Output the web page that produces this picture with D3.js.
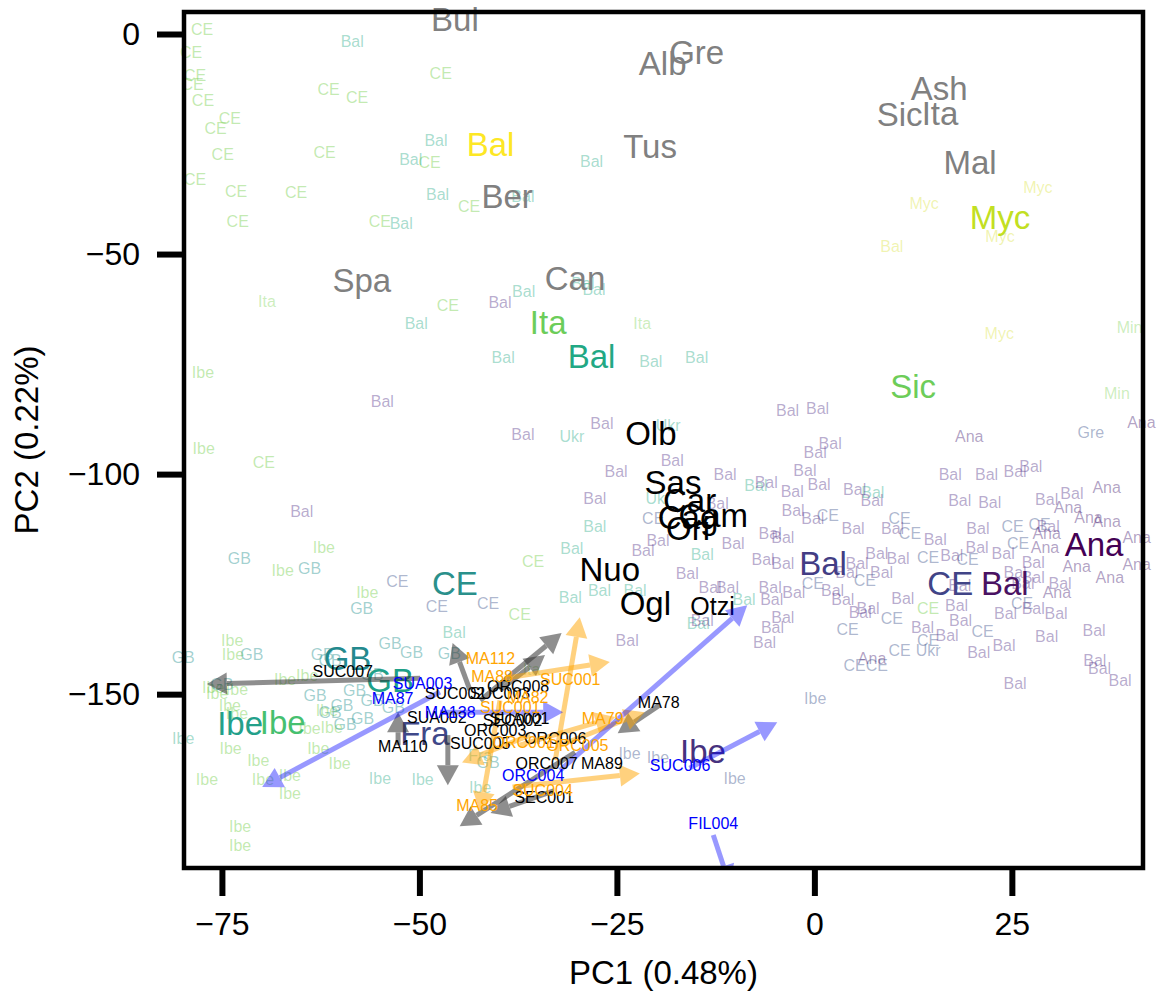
<!DOCTYPE html>
<html>
<head>
<meta charset="utf-8">
<script src="https://cdn.jsdelivr.net/npm/d3@7"></script>
<style>
  body { margin: 0; background: #fff; }
  svg text { font-family: "Liberation Sans", Arial, Helvetica, sans-serif; }
</style>
</head>
<body>
<svg id="pca" width="1159" height="996"></svg>
<script>
// axis ticks
const xTicks = [-75, -50, -25, 0, 25];
const yTicks = [0, -50, -100, -150];

// reference individuals: [label, PC1, PC2]
const greenRef = [
  ["CE",-77.5,1.1],["CE",-78.9,-4.1],["CE",-78.4,-9.5],["CE",-78.7,-11.4],["CE",-77.4,-15.2],
  ["CE",-74.0,-19.3],["CE",-75.8,-21.4],["CE",-74.9,-27.3],["CE",-78.4,-33.0],["CE",-73.2,-35.7],
  ["CE",-73.0,-42.5],["CE",-61.5,-12.5],["CE",-57.9,-14.5],["CE",-47.3,-8.9],["CE",-62.0,-27.0],
  ["CE",-65.6,-36.1],["CE",-55.0,-42.5],["CE",-43.7,-39.3],["CE",-48.7,-29.1],["CE",-46.4,-61.6],
  ["CE",-69.7,-97.3],["CE",-35.6,-119.8],["CE",14.4,-130.5],["CE",-37.3,-132.0],
  ["Ibe",-77.4,-77.0],["Ibe",-77.3,-94.1],["Ibe",-62.1,-116.6],["Ibe",-67.3,-121.8],["Ibe",-56.6,-126.8],
  ["Ibe",-73.7,-137.7],["Ibe",-73.6,-140.9],["Ibe",-64.2,-145.7],["Ibe",-67.0,-146.6],["Ibe",-76.1,-148.4],
  ["Ibe",-73.1,-148.9],["Ibe",-75.6,-149.8],["Ibe",-74.0,-152.5],["Ibe",-73.1,-154.3],["Ibe",-61.7,-153.6],
  ["Ibe",-61.1,-157.5],["Ibe",-63.9,-157.7],["Ibe",-76.9,-169.5],["Ibe",-73.9,-162.3],["Ibe",-70.4,-165.0],
  ["Ibe",-69.8,-169.5],["Ibe",-66.4,-172.5],["Ibe",-62.8,-162.3],["Ibe",-60.1,-165.7],["Ibe",-72.7,-180.0],
  ["Ibe",-72.7,-184.5],["Ibe",-66.4,-168.4]
];
const paleGreenRef = [
  ["Ita",-69.3,-60.7],["Ita",-21.8,-65.7],["Min",39.9,-66.6],["Min",38.3,-81.6],["Ita",-35.8,-144.5]
];
const tealRef = [
  ["Bal",-58.5,-1.8],["Bal",-47.9,-24.3],["Bal",-51.1,-28.6],["Bal",-47.7,-36.4],["Bal",-52.3,-43.0],
  ["Bal",-28.2,-28.9],["Bal",-36.9,-37.0],["Bal",-50.4,-65.7],["Bal",-39.4,-73.4],["Bal",-36.8,-58.4],
  ["Bal",-29.3,-56.6],["Bal",-27.9,-58.0],["Bal",-20.7,-74.3],["Bal",-14.9,-73.4],["Bal",-7.4,-102.7],
  ["Bal",7.4,-104.1],["Bal",-27.8,-111.8],["Bal",-30.7,-117.0],["Bal",-30.9,-128.0],["Bal",-27.2,-126.4],
  ["Bal",-22.7,-126.4],["Bal",-14.2,-118.2],["Bal",-8.9,-128.6],["Bal",-14.7,-133.9],["Bal",-45.6,-136.1],
  ["Ukr",-30.7,-91.4],["Ukr",-18.5,-88.9],["Ukr",-19.8,-105.5],
  ["Ibe",-79.9,-160.0],["Ibe",-49.6,-169.5],["Ibe",-42.3,-171.1],["Ibe",-55.0,-169.1],["Fra",-42.3,-163.9]
];
const gbRef = [
  ["GB",-72.8,-119.1],["GB",-63.9,-121.4],["GB",-57.3,-130.5],["GB",-79.9,-141.6],["GB",-71.2,-141.1],
  ["GB",-75.0,-147.7],["GB",-59.8,-152.5],["GB",-57.2,-155.5],["GB",-62.3,-141.1],["GB",-63.2,-150.2],
  ["GB",-53.7,-138.4],["GB",-51.0,-140.5],["GB",-46.2,-140.7],["GB",-56.0,-145.5],["GB",-53.3,-153.0],
  ["GB",-41.3,-165.5],["GB",-61.3,-142.3],["GB",-58.2,-149.1],["GB",-56.0,-151.4],["GB",-61.3,-154.1],
  ["GB",-59.4,-157.0]
];
const purpleRef = [
  ["Bal",-39.8,-60.9],["Bal",-54.7,-83.6],["Bal",-64.9,-108.6],["Bal",-26.9,-88.4],["Bal",-36.9,-91.1],
  ["Bal",-18.0,-97.0],["Bal",-25.1,-99.3],["Bal",-11.3,-100.0],["Bal",-6.1,-102.0],["Bal",-3.4,-85.5],
  ["Bal",-27.8,-105.5],["Bal",-12.3,-106.6],["Bal",-2.8,-103.9],["Bal",-2.7,-108.2],["Bal",0.4,-85.2],
  ["Bal",2.0,-93.0],["Bal",0.1,-95.0],["Bal",-1.2,-99.1],["Bal",17.2,-100.0],["Bal",21.8,-100.0],
  ["Bal",25.4,-99.5],["Bal",27.4,-98.2],["Bal",0.6,-102.3],["Bal",5.1,-103.4],["Bal",7.3,-105.9],
  ["Bal",29.4,-105.7],["Bal",-0.2,-110.0],["Bal",4.9,-112.3],["Bal",9.9,-112.3],["Bal",20.7,-112.3],
  ["Bal",15.3,-114.8],["Bal",-21.7,-117.3],["Bal",-19.8,-115.0],["Bal",-10.3,-115.7],["Bal",-6.5,-119.5],
  ["Bal",-4.0,-120.2],["Bal",-16.1,-122.5],["Bal",-13.2,-125.7],["Bal",-11.0,-125.7],["Bal",-5.6,-125.7],
  ["Bal",-2.6,-127.0],["Bal",-5.4,-128.6],["Bal",-14.2,-133.2],["Bal",-4.0,-132.5],["Bal",-5.3,-134.8],
  ["Bal",-6.3,-138.2],["Bal",-23.7,-137.7],["Bal",7.9,-118.0],["Bal",5.4,-120.2],["Bal",4.1,-122.3],
  ["Bal",8.5,-122.3],["Bal",3.6,-128.6],["Bal",5.8,-131.4],["Bal",2.3,-126.4],["Bal",6.8,-130.5],
  ["Bal",13.7,-134.8],["Bal",16.8,-136.6],["Bal",20.8,-140.5],["Bal",24.0,-138.9],["Bal",29.4,-137.0],
  ["Bal",35.4,-135.5],["Bal",35.5,-142.3],["Bal",36.1,-144.1],["Bal",38.7,-147.0],["Bal",25.4,-147.5],
  ["Bal",18.5,-133.2],["Bal",24.2,-131.6],["Bal",30.6,-131.6],["Bal",27.7,-130.5],["Bal",18.0,-129.8],
  ["Bal",18.4,-125.2],["Bal",11.2,-128.2],["Bal",10.6,-119.1],["Bal",17.4,-118.4],["Bal",20.6,-116.6],
  ["Bal",23.9,-118.0],["Bal",27.7,-120.0],["Bal",25.4,-122.3],["Bal",27.7,-123.6],["Bal",31.1,-124.8],
  ["Bal",26.4,-124.8],["Bal",29.6,-111.8],["Bal",32.6,-104.3],["Bal",18.4,-105.9],["Bal",22.2,-106.4],
  ["Bal",-5.6,-113.4],["Bal",-4.0,-114.3]
];
const anaRef = [
  ["Ana",19.6,-91.4],["Ana",41.4,-88.2],["Ana",37.0,-103.0],["Ana",32.1,-107.5],["Ana",34.7,-109.8],
  ["Ana",37.0,-110.7],["Ana",40.8,-114.3],["Ana",29.2,-116.6],["Ana",33.2,-121.1],["Ana",37.4,-123.6],
  ["Ana",40.8,-120.5],["Ana",30.7,-127.0],["Ana",7.3,-141.8],["Ana",29.4,-113.4]
];
const lavenderRef = [
  ["CE",-52.8,-124.5],["CE",-41.3,-129.5],["CE",-20.4,-110.0],["CE",1.7,-109.5],["CE",10.8,-110.0],
  ["CE",25.1,-111.8],["CE",12.1,-113.4],["CE",-0.2,-124.8],["CE",6.4,-124.1],["CE",9.8,-132.7],
  ["CE",4.2,-135.2],["CE",14.4,-137.7],["CE",10.8,-140.0],["CE",5.1,-143.6],["CE",7.9,-143.4],
  ["CE",21.3,-135.7],["CE",26.3,-129.3],["CE",14.4,-118.9],["CE",19.4,-119.5],["CE",25.8,-115.7],
  ["CE",28.5,-111.4],["CE",-47.8,-130.0],["Ukr",14.4,-140.0],["Gre",35.0,-90.5],
  ["Ibe",0.1,-150.9],["Ibe",-23.4,-163.4],["Ibe",-19.8,-164.3],["Ibe",-10.1,-169.1]
];
const yellowRef = [
  ["Myc",28.3,-34.8],["Myc",13.9,-38.6],["Myc",23.5,-46.1],["Myc",23.4,-68.0],["Bal",9.8,-48.2]
];

// population centroids
const ancientMeans = [
  ["Bul",-45.5,3.2],["Alb",-19.2,-6.6],["Gre",-14.9,-4.3],["Tus",-20.8,-25.5],["Ber",-38.9,-37.0],
  ["Spa",-57.3,-56.1],["Can",-30.3,-55.5],["Ash",15.8,-12.3],["Sic",10.8,-18.4],["Ita",15.9,-18.0],
  ["Mal",19.7,-29.3]
];
const sardMeans = [
  ["Olb",-20.7,-90.7],["Sas",-17.9,-101.8],["Car",-15.8,-105.9],["Cam",-12.8,-109.5],["Cag",-16.0,-109.8],
  ["Ori",-16.0,-112.3],["Nuo",-25.9,-121.6],["Ogl",-21.4,-129.5]
];
const otziPos = ["Otzi",-12.9,-130.0];
const groupMeans = [
  ["Bal",-41.0,-25.0],["Ita",-33.7,-65.5],["Bal",-28.2,-73.2],["Sic",12.5,-80.2],["Myc",23.5,-41.8],
  ["CE",-45.5,-124.8],["GB",-59.1,-141.8],["GB",-53.7,-147.0],["Ibe",-72.7,-156.6],["Ibe",-67.3,-156.4],
  ["Fra",-49.3,-158.9],["Ibe",-14.1,-163.0],["Bal",1.1,-120.2],["CE",17.2,-124.8],["Bal",24.1,-124.8],
  ["Ana",35.4,-116.1]
];
const groupMeanColors = [
  "#fde725","#6ccd5a","#22a884","#6dcd59","#c2df23",
  "#2a908b","#23898e","#1fa088","#23a08a","#46c06f",
  "#3f4889","#46327e","#433d84","#414487","#4a1262",
  "#440154"
];

// projected samples: [x0, y0, x1, y1]
const grayArrows = [
  [-49.9,-146.4,-76.9,-147.7],[-43.6,-149.1,-45.8,-138.4],[-52.7,-161.6,-52.7,-154.1],
  [-46.4,-159.3,-46.4,-170.7],[-42.3,-151.4,-32.0,-136.1],[-39.8,-149.1,-34.1,-141.1],
  [-30.3,-163.2,-44.9,-180.0],[-33.0,-172.0,-41.0,-177.0],[-19.6,-152.5,-24.9,-158.9]
];
const orangeArrows = [
  [-39.2,-146.4,-25.9,-142.7],[-32.8,-165.0,-29.7,-132.5],[-38.2,-171.1,-22.1,-168.0],
  [-37.3,-161.6,-25.2,-155.2],[-39.8,-151.4,-42.3,-176.8],[-36.0,-159.3,-44.6,-165.5],
  [-32.2,-161.6,-21.5,-154.1]
];
const blueArrows = [
  [-32.2,-167.3,-8.5,-129.8],[-47.4,-149.5,-69.9,-171.1],[-15.8,-166.8,-4.7,-156.4],
  [-12.8,-182.0,-10.7,-193.4],[-47.4,-154.1,-31.8,-154.1]
];

// sample labels
const blackSamples = [
  ["SUC007",-59.7,-144.8],["ORC008",-37.5,-148.2],["SUC002",-45.5,-149.8],["SUC003",-39.8,-149.8],
  ["SUA002",-47.8,-155.2],["SEC002",-38.2,-155.9],["SUA001",-37.3,-155.5],["ORC003",-40.4,-158.2],
  ["ORC006",-32.8,-160.0],["SUC005",-42.3,-161.1],["MA110",-52.1,-161.8],["ORC007",-33.9,-165.7],
  ["MA89",-26.9,-165.7],["SEC001",-34.2,-173.4],["MA78",-19.7,-152.0]
];
const orangeSamples = [
  ["MA112",-41.0,-141.8],["MA88",-40.8,-146.1],["SUC001",-30.9,-146.6],["SUC001",-38.5,-153.0],
  ["MA82",-36.3,-150.7],["MA79",-26.8,-155.5],["ORC001",-36.8,-161.0],["ORC005",-30.0,-161.6],
  ["SUC004",-34.4,-171.8],["MA85",-42.7,-175.2]
];
const blueSamples = [
  ["SUA003",-49.6,-147.5],["MA87",-53.4,-150.9],["MA138",-46.1,-154.1],["ORC004",-35.6,-168.4],
  ["SUC006",-17.0,-166.1],["FIL004",-12.8,-179.5]
];

const W = 1159, H = 996;
const plot = {left: 184, right: 1143, top: 12, bottom: 868};

const svg = d3.select("#pca");

const x = d3.scaleLinear().domain([-79.8, 41.6]).range([plot.left, plot.right]);
const y = d3.scaleLinear().domain([5.0, -189.5]).range([plot.top, plot.bottom]);

svg.append("defs").append("clipPath").attr("id", "plotClip")
  .append("rect")
  .attr("x", plot.left).attr("y", plot.top)
  .attr("width", plot.right - plot.left).attr("height", plot.bottom - plot.top);

// small reference labels
function drawLabels(list, color, opacity, size) {
  svg.append("g").selectAll("text")
    .data(list)
    .join("text")
    .attr("x", d => x(d[1]))
    .attr("y", d => y(d[2]))
    .attr("text-anchor", "middle")
    .attr("dominant-baseline", "central")
    .attr("font-size", size)
    .attr("fill", color)
    .attr("fill-opacity", opacity)
    .text(d => d[0]);
}

drawLabels(greenRef, "#7ad151", 0.45, 16);
drawLabels(paleGreenRef, "#7ad151", 0.38, 16);
drawLabels(yellowRef, "#d8e030", 0.38, 16);
drawLabels(tealRef, "#22a884", 0.4, 16);
drawLabels(gbRef, "#21908d", 0.42, 16);
drawLabels(lavenderRef, "#3b528b", 0.42, 16);
drawLabels(purpleRef, "#55368a", 0.42, 16);
drawLabels(anaRef, "#482173", 0.42, 16);

// centroid labels
drawLabels(ancientMeans, "#808080", 1, 33);

svg.append("g").selectAll("text")
  .data(groupMeans)
  .join("text")
  .attr("x", d => x(d[1]))
  .attr("y", d => y(d[2]))
  .attr("text-anchor", "middle")
  .attr("dominant-baseline", "central")
  .attr("font-size", 33)
  .attr("fill", (d, i) => groupMeanColors[i])
  .text(d => d[0]);

drawLabels(sardMeans, "#000", 1, 33);
drawLabels([otziPos], "#000", 1, 25);

// arrows
const arrowLayer = svg.append("g").attr("clip-path", "url(#plotClip)");

function drawArrows(list, color, opacity) {
  list.forEach(a => {
    const x0 = x(a[0]), y0 = y(a[1]), x1 = x(a[2]), y1 = y(a[3]);
    const ang = Math.atan2(y1 - y0, x1 - x0);
    const hl = 20, hw = 11;
    const bx = x1 - hl * Math.cos(ang), by = y1 - hl * Math.sin(ang);
    const g = arrowLayer.append("g").attr("opacity", opacity);
    g.append("line")
      .attr("x1", x0).attr("y1", y0)
      .attr("x2", bx).attr("y2", by)
      .attr("stroke", color)
      .attr("stroke-width", 5);
    g.append("path")
      .attr("d", `M${x1},${y1}L${bx - hw * Math.sin(ang)},${by + hw * Math.cos(ang)}L${bx + hw * Math.sin(ang)},${by - hw * Math.cos(ang)}Z`)
      .attr("fill", color);
  });
}

drawArrows(grayArrows, "#333", 0.55);
drawArrows(orangeArrows, "#ffa500", 0.5);
drawArrows(blueArrows, "#0000ff", 0.4);

drawLabels(blackSamples, "#000", 1, 16);
drawLabels(orangeSamples, "#ffa500", 1, 16);
drawLabels(blueSamples, "#0000ff", 1, 16);

// axes
const xAxis = svg.append("g")
  .attr("transform", `translate(0,${plot.bottom})`)
  .call(d3.axisBottom(x).tickValues(xTicks).tickSize(28).tickPadding(16));
const yAxis = svg.append("g")
  .attr("transform", `translate(${plot.left},0)`)
  .call(d3.axisLeft(y).tickValues(yTicks).tickSize(27).tickPadding(17));

[xAxis, yAxis].forEach(ax => {
  ax.select(".domain").remove();
  ax.selectAll(".tick line").attr("stroke", "#000").attr("stroke-width", 6);
  ax.selectAll(".tick text")
    .attr("fill", "#000")
    .attr("font-size", 32)
    .attr("font-family", "\"Liberation Sans\", Arial, sans-serif");
});

// frame
svg.append("rect")
  .attr("x", plot.left).attr("y", plot.top)
  .attr("width", plot.right - plot.left).attr("height", plot.bottom - plot.top)
  .attr("fill", "none")
  .attr("stroke", "#000")
  .attr("stroke-width", 4.5);

// axis titles
svg.append("text")
  .attr("x", (plot.left + plot.right) / 2)
  .attr("y", 984)
  .attr("text-anchor", "middle")
  .attr("font-size", 33)
  .text("PC1 (0.48%)");

svg.append("text")
  .attr("transform", `translate(38,${(plot.top + plot.bottom) / 2}) rotate(-90)`)
  .attr("text-anchor", "middle")
  .attr("font-size", 33)
  .text("PC2 (0.22%)");
</script>
</body>
</html>
